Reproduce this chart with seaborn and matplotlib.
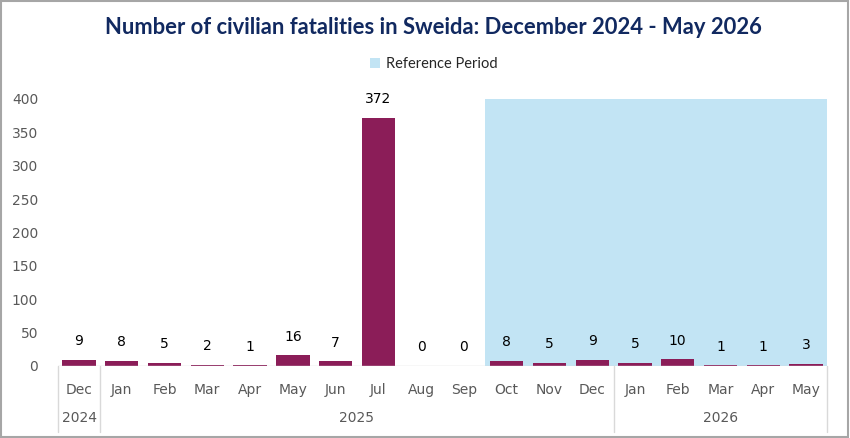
import matplotlib.pyplot as plt
import matplotlib.transforms as mtransforms
from matplotlib.patches import Patch, Rectangle
import seaborn as sns
import pandas as pd

months = ['Dec', 'Jan', 'Feb', 'Mar', 'Apr', 'May', 'Jun', 'Jul', 'Aug',
          'Sep', 'Oct', 'Nov', 'Dec', 'Jan', 'Feb', 'Mar', 'Apr', 'May']
years = ['2024'] + ['2025'] * 12 + ['2026'] * 5
fatalities = [9, 8, 5, 2, 1, 16, 7, 372, 0, 0, 8, 5, 9, 5, 10, 1, 1, 3]
reference = [0] * 10 + [400] * 8

df = pd.DataFrame({
    'period': [f'{m} {y}' for m, y in zip(months, years)],
    'fatalities': fatalities,
    'reference': reference,
})

sns.set_style('white')
plt.rcParams['font.family'] = ['DejaVu Sans']

bar_color = '#8B1D58'
ref_color = '#C2E4F4'
text_gray = '#595959'
line_gray = '#D9D9D9'

fig = plt.figure(figsize=(8.5, 4.38), dpi=100)
ax = fig.add_axes([0.0678, 0.1644, 0.9056, 0.6096])

sns.barplot(data=df, x='period', y='reference', color=ref_color,
            width=1.0, saturation=1, linewidth=0, ax=ax, zorder=1)
sns.barplot(data=df, x='period', y='fatalities', color=bar_color,
            width=0.78, saturation=1, linewidth=0, ax=ax, zorder=2)

ax.set_xlim(-0.5, len(months) - 0.5)
ax.set_ylim(0, 400)
ax.set_yticks(range(0, 401, 50))
ax.tick_params(axis='y', labelsize=10, labelcolor=text_gray, length=0, pad=14)
ax.set_xticks(range(len(months)))
ax.set_xticklabels(months)
ax.tick_params(axis='x', labelsize=10, labelcolor=text_gray, length=0, pad=12)
ax.set_xlabel('')
ax.set_ylabel('')
for s in ax.spines.values():
    s.set_visible(False)
ax.axhline(0, color=line_gray, lw=1, zorder=3)

# value labels
for i, v in enumerate(fatalities):
    ax.text(i, v + 28, str(v), ha='center', va='center', fontsize=10, color='black')

# year group labels and separators
trans = mtransforms.blended_transform_factory(ax.transData, ax.transAxes)
for x in [-0.5, 0.5, 12.5, 17.5]:
    ax.plot([x, x], [0, -0.247], transform=trans, color=line_gray, lw=1, clip_on=False)
groups = {}
for i, y in enumerate(years):
    groups.setdefault(y, []).append(i)
for y, idx in groups.items():
    ax.text((idx[0] + idx[-1]) / 2, -0.195, y, transform=trans, ha='center', va='center',
            fontsize=10, color=text_gray)

fig.suptitle('Number of civilian fatalities in Sweida: December 2024 - May 2026',
             x=0.51, y=0.962, fontsize=15.8, fontweight='bold', color='#112960',
             family=['Lato', 'DejaVu Sans'])
fig.legend(handles=[Patch(facecolor=ref_color, edgecolor='none', label='Reference Period')],
           loc='center', bbox_to_anchor=(0.51, 0.853), frameon=False, handlelength=0.7,
           handleheight=0.7, handletextpad=0.4, prop={'family': 'Lato', 'size': 10.5})

fig.patches.append(Rectangle((0.001, 0.002), 0.997, 0.995, transform=fig.transFigure,
                             fill=False, edgecolor='#A6A6A6', lw=1.5))

fig.savefig('out.png', dpi=100)
